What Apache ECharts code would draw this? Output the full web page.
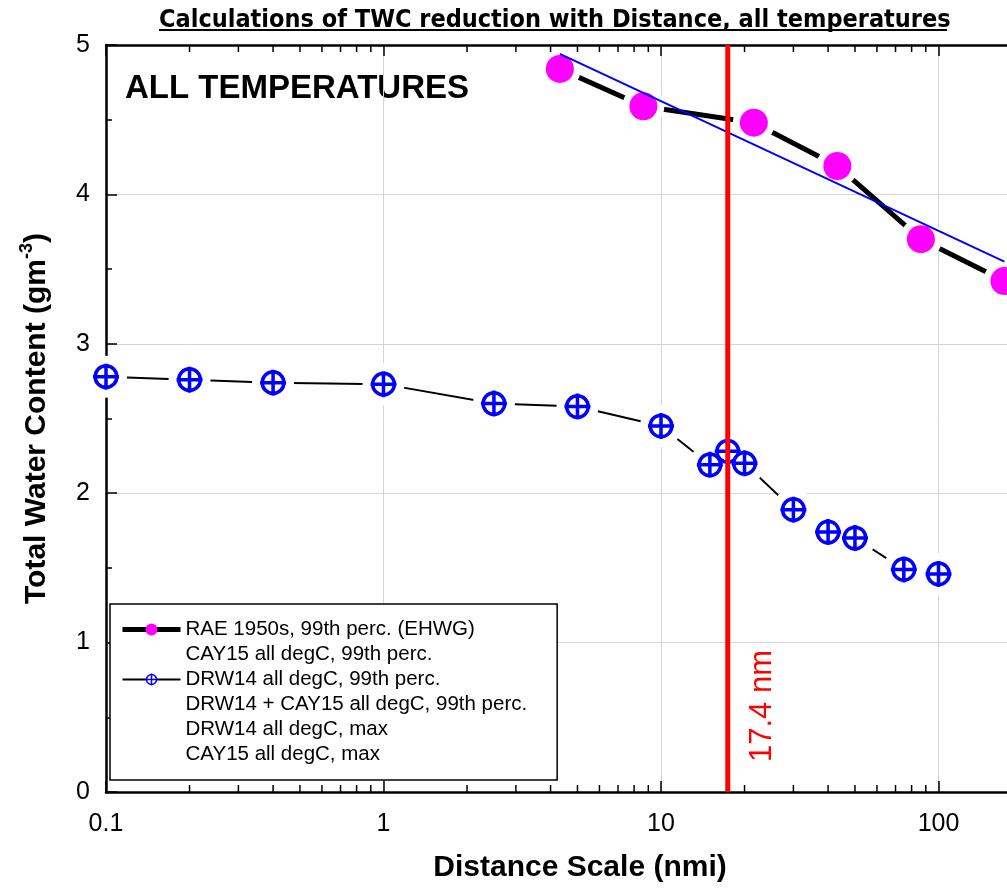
<!DOCTYPE html>
<html>
<head>
<meta charset="UTF-8">
<title>TWC reduction with distance</title>
<script src="https://cdn.jsdelivr.net/npm/echarts@6/dist/echarts.min.js"></script>
<style>
	html, body { margin: 0; padding: 0; background: #fff; overflow: hidden; }
	/* wider than the window: the plot runs on past the right edge (up to 1000 nmi) */
	#container { width: 1240px; height: 890px; }
</style>
</head>
<body>
	<div id="container"></div>
	<script type="text/javascript">

	// DRW14 all degC, 99th perc.
	var drwX = [0.1, 0.2, 0.4, 1, 2.5, 5, 10, 15, 17.4, 20, 30, 40, 50, 75, 100];
	var drwY = [2.78, 2.76, 2.74, 2.73, 2.60, 2.58, 2.45, 2.19, 2.28, 2.20, 1.89, 1.74, 1.70, 1.49, 1.46];
	// RAE 1950s, 99th perc. (EHWG)
	var raeX = [4.32, 8.64, 21.6, 43.2, 86.4, 172.8];
	var raeY = [4.84, 4.59, 4.48, 4.19, 3.70, 3.42];
	// straight fit through the RAE points (end points)
	var fitX = [4.32, 172.8];
	var fitY = [4.94, 3.55];
	// vertical marker
	var markX = 17.4;
	var markY = [0, 5];
	// log minor tick positions
	var minorTicks = [0.2, 0.3, 0.4, 0.5, 0.6, 0.7, 0.8, 0.9,
		2, 3, 4, 5, 6, 7, 8, 9,
		20, 30, 40, 50, 60, 70, 80, 90,
		200, 300, 400, 500, 600, 700, 800, 900];

	var legendNames = [
		'RAE 1950s, 99th perc. (EHWG)',
		'CAY15 all degC, 99th perc.',
		'DRW14 all degC, 99th perc.',
		'DRW14 + CAY15 all degC, 99th perc.',
		'DRW14 all degC, max',
		'CAY15 all degC, max'
	];

	function pairs(xs, ys) {
		var out = [];
		for (var i = 0; i < xs.length; i++) out.push([xs[i], ys[i]]);
		return out;
	}

	var ARIAL = '"Liberation Sans", Arial, sans-serif';
	var NARROW = '"Liberation Sans Narrow", "DejaVu Sans Condensed", "Liberation Sans", sans-serif';
	var crossCircle = 'path://M0,-10A10,10,0,1,1,0,10A10,10,0,1,1,0,-10ZM-12,0L12,0M0,-12L0,12';

	var dom = document.getElementById("container");
	var myChart = echarts.init(dom, null, {renderer: 'canvas', width: 1240, height: 890});

	var xBase = {
		type: 'log',
		min: 0.1,
		max: 1000,
		logBase: 10,
		axisLine: {show: true, lineStyle: {color: '#000', width: 2.5}},
		axisTick: {show: true, inside: true, length: 11, lineStyle: {color: '#000', width: 1.5}},
		splitLine: {show: false}
	};

	var option = {
		animation: false,
		backgroundColor: '#fff',
		title: {
			text: 'Calculations of TWC reduction with Distance, all temperatures',
			left: 154,
			top: 3,
			textStyle: {fontFamily: NARROW, fontSize: 25, fontWeight: 'bold', color: '#000'}
		},
		grid: {left: 106, top: 45, right: 24, bottom: 98, outerBoundsMode: 'none'},
		legend: {
			orient: 'vertical',
			left: 110,
			top: 604,
			padding: [15, 30, 15, 10],
			itemWidth: 58,
			itemHeight: 15,
			itemGap: 4,
			backgroundColor: '#fff',
			borderColor: '#000',
			borderWidth: 1.5,
			borderRadius: 0,
			selectedMode: false,
			textStyle: {fontFamily: ARIAL, fontSize: 20.5, color: '#000'},
			data: [
				{name: legendNames[0], lineStyle: {color: '#000', width: 5}, itemStyle: {color: '#ff00ff', opacity: 1}},
				{name: legendNames[1], icon: 'none'},
				{name: legendNames[2], lineStyle: {color: '#000', width: 2}, itemStyle: {color: '#fff', borderColor: '#0000ff', borderWidth: 1.5, opacity: 1}},
				{name: legendNames[3], icon: 'none'},
				{name: legendNames[4], icon: 'none'},
				{name: legendNames[5], icon: 'none'}
			]
		},
		xAxis: [
			Object.assign({}, xBase, {
				position: 'bottom',
				axisLabel: {show: true, margin: 20, fontFamily: ARIAL, fontSize: 25, color: '#000',
					formatter: function (v) { return String(v); }},
				splitLine: {show: true, lineStyle: {color: '#d4d4d4', width: 1}}
			}),
			Object.assign({}, xBase, {
				position: 'top',
				axisLabel: {show: false}
			})
		],
		yAxis: [{
			type: 'value',
			min: 0,
			max: 5,
			interval: 1,
			name: '{t|Total Water Content (gm}{s|-3}{t|)}',
			nameLocation: 'middle',
			nameGap: 50,
			nameTextStyle: {
				rich: {
					t: {fontFamily: ARIAL, fontSize: 30, fontWeight: 'bold', color: '#000'},
					s: {fontFamily: ARIAL, fontSize: 18, fontWeight: 'bold', color: '#000', padding: [0, 0, 20, 0]}
				}
			},
			axisLine: {show: true, lineStyle: {color: '#000', width: 2.5}},
			axisTick: {show: true, inside: true, length: 11, lineStyle: {color: '#000', width: 1.5}},
			minorTick: {show: true, splitNumber: 2, length: 6, lineStyle: {color: '#000', width: 1.5}},
			axisLabel: {margin: 16, fontFamily: ARIAL, fontSize: 25, color: '#000'},
			splitLine: {show: true, lineStyle: {color: '#d4d4d4', width: 1}}
		}],
		graphic: [
			{type: 'line', shape: {x1: 159, y1: 30, x2: 947, y2: 30}, style: {stroke: '#000', lineWidth: 2}},
			{type: 'text', left: 125, top: 72, style: {text: 'ALL TEMPERATURES', font: 'bold 33px ' + ARIAL, fill: '#000'}},
			{type: 'text', x: 580, y: 868, style: {text: 'Distance Scale (nmi)', font: 'bold 30px ' + ARIAL, fill: '#000', align: 'center', verticalAlign: 'middle'}},
			{type: 'text', x: 762, y: 706, rotation: Math.PI / 2, style: {text: '17.4 nm', font: '31px ' + ARIAL, fill: '#ff0000', align: 'center', verticalAlign: 'middle'}}
		],
		series: [
			{
				name: legendNames[0],
				type: 'line',
				z: 2,
				data: pairs(raeX, raeY),
				symbol: 'circle',
				symbolSize: 28,
				itemStyle: {color: '#ff00ff'},
				lineStyle: {color: '#000', width: 5}
			},
			{name: legendNames[1], type: 'line', data: []},
			{
				name: legendNames[2],
				type: 'line',
				z: 2,
				data: pairs(drwX, drwY),
				symbol: crossCircle,
				symbolSize: 26,
				itemStyle: {color: '#fff', borderColor: '#0000ff', borderWidth: 3.5},
				lineStyle: {color: '#000', width: 2}
			},
			{name: legendNames[3], type: 'line', data: []},
			{name: legendNames[4], type: 'line', data: []},
			{name: legendNames[5], type: 'line', data: []},
			// white halos cut gaps in the joining lines around each marker
			{
				name: 'raeHalo', type: 'scatter', z: 3, silent: true,
				data: pairs(raeX, raeY), symbol: 'circle', symbolSize: 42,
				itemStyle: {color: '#fff', opacity: 1}
			},
			{
				name: 'drwHalo', type: 'scatter', z: 3, silent: true,
				data: pairs(drwX, drwY), symbol: 'circle', symbolSize: 42,
				itemStyle: {color: '#fff', opacity: 1}
			},
			{
				name: 'raeMarks', type: 'scatter', z: 4, silent: true,
				data: pairs(raeX, raeY), symbol: 'circle', symbolSize: 28,
				itemStyle: {color: '#ff00ff', opacity: 1}
			},
			{
				name: 'drwMarks', type: 'scatter', z: 4, silent: true,
				data: pairs(drwX, drwY), symbol: crossCircle, symbolSize: 26,
				itemStyle: {color: '#fff', borderColor: '#0000ff', borderWidth: 3.5, opacity: 1}
			},
			{
				name: 'raeFit', type: 'line', z: 5, silent: true,
				data: pairs(fitX, fitY), symbol: 'none',
				lineStyle: {color: '#0000ff', width: 2}
			},
			{
				name: 'distanceMark', type: 'line', z: 6, silent: true,
				data: [[markX, markY[0]], [markX, markY[1]]], symbol: 'none',
				lineStyle: {color: '#ff0000', width: 5}
			},
			{
				name: 'minorTicks', type: 'custom', z: 7, silent: true, clip: false,
				data: minorTicks.map(function (v) { return [v, 0]; }),
				encode: {x: 0, y: 1},
				renderItem: function (params, api) {
					var v = api.value(0);
					var b = api.coord([v, 0]);
					var t = api.coord([v, 5]);
					return {
						type: 'group',
						children: [
							{type: 'line', shape: {x1: b[0], y1: b[1], x2: b[0], y2: b[1] - 7}, style: {stroke: '#000', lineWidth: 1.5}},
							{type: 'line', shape: {x1: t[0], y1: t[1], x2: t[0], y2: t[1] + 7}, style: {stroke: '#000', lineWidth: 1.5}}
						]
					};
				}
			}
		]
	};

	if (option && typeof option === "object") {
		myChart.setOption(option, true);
	}
	</script>
</body>
</html>
